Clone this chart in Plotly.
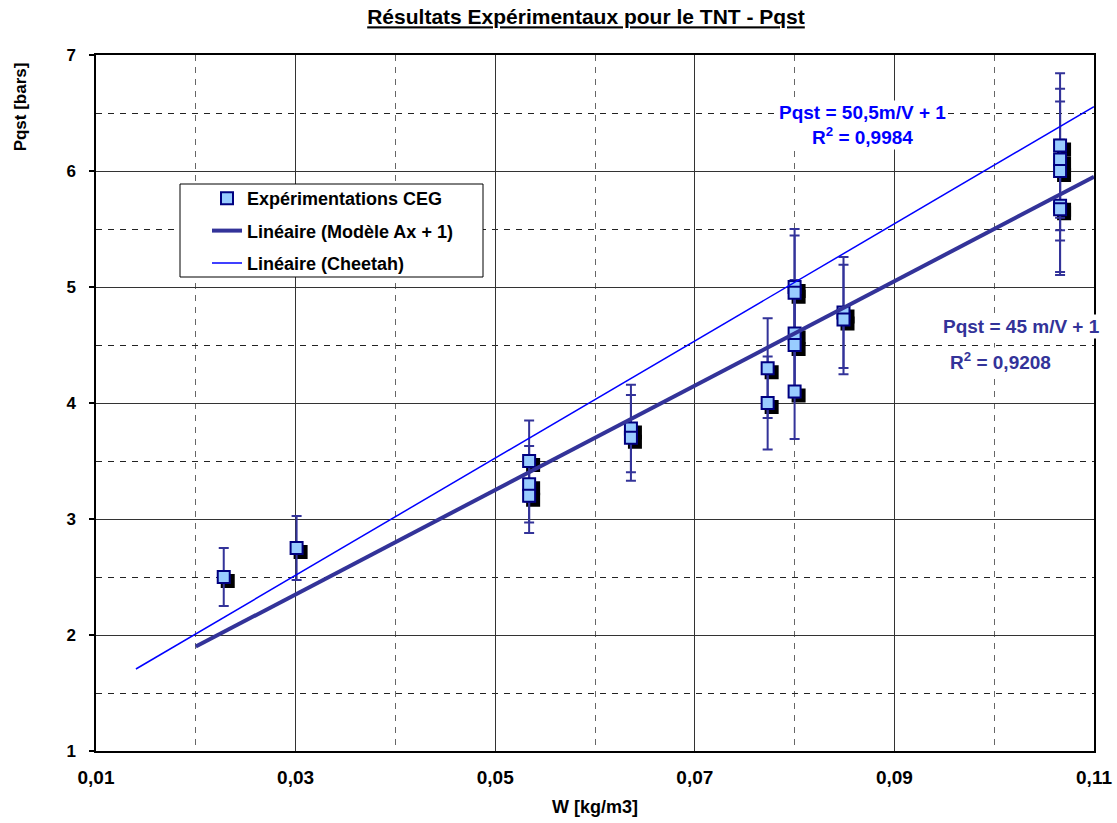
import plotly.graph_objects as go

# ---- data ---------------------------------------------------------------
# measured charge density W [kg/m3] and quasi-static pressure Pqst [bars]
w_exp = [0.0228, 0.0301, 0.0534, 0.0534, 0.0534, 0.0636, 0.0636,
         0.0773, 0.0773, 0.0800, 0.0800, 0.0800, 0.0800, 0.0800,
         0.0849, 0.0849, 0.1066, 0.1066, 0.1066, 0.1066, 0.1066]
p_exp = [2.50, 2.75, 3.50, 3.30, 3.20, 3.78, 3.70,
         4.30, 4.00, 5.00, 4.95, 4.60, 4.50, 4.10,
         4.78, 4.72, 6.22, 6.10, 6.00, 5.70, 5.67]
err_pct = 10  # +/- 10 % uncertainty on each measurement

# linear models Pqst = A * W + 1
slope_model = 45.0
r2_model = 0.9208
w_model = [0.02, 0.11]
slope_cheetah = 50.5
r2_cheetah = 0.9984
w_cheetah = [0.014, 0.11]

x_major = [0.01, 0.03, 0.05, 0.07, 0.09, 0.11]
x_major_text = ["0,01", "0,03", "0,05", "0,07", "0,09", "0,11"]
x_minor = [0.02, 0.04, 0.06, 0.08, 0.10]
y_major = [1, 2, 3, 4, 5, 6, 7]
y_minor = [1.5, 2.5, 3.5, 4.5, 5.5, 6.5]

# ---- layout constants ---------------------------------------------------
FIG_W, FIG_H = 1117, 823
M_L, M_R, M_T, M_B = 96, 23, 55, 72
X_RANGE = [0.01, 0.11]
Y_RANGE = [1, 7]
PLOT_W = FIG_W - M_L - M_R
PLOT_H = FIG_H - M_T - M_B
FONT = "Liberation Sans, Arial, sans-serif"

NAVY = "#000080"
SLATE = "#333399"
BLUE = "#0000FF"
FILL = "#99CCFF"

# drop-shadow offset of the markers: 4 px right, 4 px down
shadow_dx = 4 * (X_RANGE[1] - X_RANGE[0]) / PLOT_W
shadow_dy = -4 * (Y_RANGE[1] - Y_RANGE[0]) / PLOT_H

fig = go.Figure()

# marker shadows
fig.add_trace(go.Scatter(
    x=[w + shadow_dx for w in w_exp],
    y=[p + shadow_dy for p in p_exp],
    mode="markers",
    marker=dict(symbol="square", size=12, color="black",
                line=dict(width=2, color="black")),
    showlegend=False, hoverinfo="skip",
))

# measurements with error bars
fig.add_trace(go.Scatter(
    x=w_exp, y=p_exp, mode="markers",
    name="Expérimentations CEG", legendgroup="a",
    marker=dict(symbol="square", size=12, color=FILL,
                line=dict(width=2, color=NAVY)),
    error_y=dict(type="percent", value=err_pct, color=SLATE,
                 thickness=2, width=5),
))

# fitted model
fig.add_trace(go.Scatter(
    x=w_model, y=[slope_model * w + 1 for w in w_model],
    mode="lines", name="Linéaire (Modèle Ax + 1)", legendgroup="b",
    line=dict(color=SLATE, width=4),
))

# Cheetah prediction
fig.add_trace(go.Scatter(
    x=w_cheetah, y=[slope_cheetah * w + 1 for w in w_cheetah],
    mode="lines", name="Linéaire (Cheetah)", legendgroup="c",
    line=dict(color=BLUE, width=1.5),
))


def fmt(v):
    return f"{v:g}".replace(".", ",")


ann_font = dict(family=FONT, size=19, weight="bold")
fig.add_annotation(
    x=0.0868, y=6.40, xref="x", yref="y", showarrow=False,
    text=f"Pqst = {fmt(slope_cheetah)}m/V + 1<br>R<sup>2</sup> = {r2_cheetah:.4f}".replace(".", ","),
    font=dict(ann_font, color=BLUE), align="center",
    bgcolor="white", xanchor="center", yanchor="middle",
)
fig.add_annotation(
    x=0.1027, y=4.66, xref="x", yref="y", showarrow=False,
    text=f"Pqst = {fmt(slope_model)} m/V + 1",
    font=dict(ann_font, color=SLATE),
    bgcolor="white", xanchor="center", yanchor="middle",
)
fig.add_annotation(
    x=0.1006, y=4.36, xref="x", yref="y", showarrow=False,
    text=f"R<sup>2</sup> = {r2_model:.4f}".replace(".", ","),
    font=dict(ann_font, color=SLATE),
    bgcolor="white", xanchor="center", yanchor="middle",
)

# y axis title, placed near the top of the axis
fig.add_annotation(
    x=-0.076, y=0.925, xref="paper", yref="paper", showarrow=False,
    xanchor="center", yanchor="middle",
    text="Pqst [bars]", textangle=-90,
    font=dict(family=FONT, size=17, weight="bold", color="black"),
)

# legend frame
fig.add_shape(type="rect", xref="paper", yref="paper",
              x0=(180 - M_L) / PLOT_W, x1=(483 - M_L) / PLOT_W,
              y0=(FIG_H - M_B - 277) / PLOT_H, y1=(FIG_H - M_B - 184) / PLOT_H,
              line=dict(color="black", width=1), fillcolor="white", layer="above")

fig.update_layout(
    width=FIG_W, height=FIG_H,
    margin=dict(l=M_L, r=M_R, t=M_T, b=M_B, autoexpand=False),
    paper_bgcolor="white", plot_bgcolor="white",
    separators=",.",
    font=dict(family=FONT, color="black"),
    title=dict(
        text="<u>Résultats Expérimentaux pour le TNT - Pqst</u>",
        x=(586 - M_L) / PLOT_W, xref="paper", xanchor="center",
        y=1 - 17 / FIG_H, yref="container", yanchor="middle",
        font=dict(family=FONT, size=21, weight="bold", color="black"),
    ),
    legend=dict(
        x=(207 - M_L) / PLOT_W, y=(FIG_H - M_B - 180) / PLOT_H,
        xanchor="left", yanchor="top",
        bgcolor="rgba(0,0,0,0)", borderwidth=0,
        font=dict(family=FONT, size=18, weight="bold", color="black"),
        tracegroupgap=6,
    ),
    showlegend=True,
)

fig.update_xaxes(
    range=X_RANGE, tickmode="array", tickvals=x_major, ticktext=x_major_text,
    automargin=False,
    showgrid=True, gridcolor="#333333", gridwidth=1,
    minor=dict(tickmode="array", tickvals=x_minor, showgrid=True,
               gridcolor="#666666", gridwidth=1, griddash="6px,6px"),
    showline=True, linecolor="black", linewidth=1.5, mirror=True,
    ticks="", ticklabelstandoff=8,
    tickfont=dict(family=FONT, size=19, weight="bold", color="black"),
    title=dict(text="W [kg/m3]", standoff=14,
               font=dict(family=FONT, size=18, weight="bold", color="black")),
    zeroline=False,
)
fig.update_yaxes(
    range=Y_RANGE, tickmode="array", tickvals=y_major,
    automargin=False,
    showgrid=True, gridcolor="#333333", gridwidth=1,
    minor=dict(tickmode="array", tickvals=y_minor, showgrid=True,
               gridcolor="#222222", gridwidth=1, griddash="6px,6px"),
    showline=True, linecolor="black", linewidth=1.5, mirror=True,
    ticks="outside", ticklen=5, tickcolor="black", tickwidth=1.5,
    ticklabelstandoff=10,
    tickfont=dict(family=FONT, size=17, weight="bold", color="black"),
    zeroline=False,
)

fig.write_html("out.html")
